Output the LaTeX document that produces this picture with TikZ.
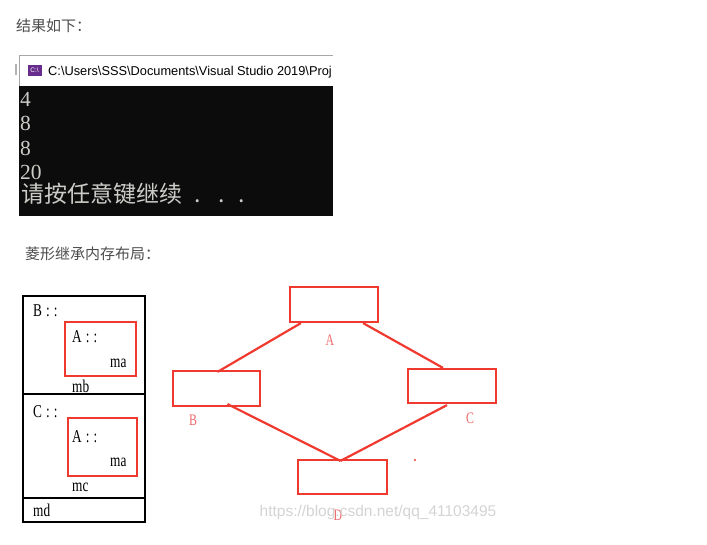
\documentclass[tikz,border=0pt]{standalone}
\usepackage{fontspec}
\setmainfont{Liberation Serif}
\newfontfamily\cjk{Noto Sans CJK SC}
\newfontfamily\uisans{Liberation Sans}
\newfontfamily\narrowserif[FakeStretch=0.74]{Liberation Serif}
\usetikzlibrary{calc}
\definecolor{redline}{RGB}{240,58,48}
\definecolor{redlabel}{RGB}{238,105,105}
\definecolor{consoletext}{RGB}{204,204,200}
\definecolor{headtext}{RGB}{77,77,77}
\definecolor{watermark}{RGB}{212,212,212}
\definecolor{vspurple}{RGB}{104,45,140}
\definecolor{consolebg}{RGB}{12,12,12}
\begin{document}
\begin{tikzpicture}[x=1pt,y=-1pt,
  txt/.style={inner sep=0pt, anchor=base west},
  head/.style={inner sep=0pt, anchor=west, text=headtext, font=\cjk\fontsize{15pt}{15pt}\selectfont},
  contxt/.style={txt, text=consoletext, font=\fontsize{21.5pt}{21.5pt}\selectfont},
  laytxt/.style={txt, font=\narrowserif\fontsize{18pt}{18pt}\selectfont},
  laybox/.style={draw=black, line width=2.6pt, minimum width=122pt, inner sep=0pt},
  redbox/.style={draw=redline, line width=2.4pt, inner sep=0pt},
  diabox/.style={draw=redline, line width=2.2pt, inner sep=0pt, minimum width=88pt, minimum height=35pt},
  dialabel/.style={inner sep=0pt, anchor=base, text=redlabel, font=\narrowserif\fontsize{16pt}{16pt}\selectfont},
  conn/.style={draw=redline, line width=2.2pt}]
\useasboundingbox (0,0) rectangle (707,545);
\fill[white] (0,0) rectangle (707,545);

% heading
\node[head] (h1) at (16,26) {结果如下：};

% console window
\fill[consolebg] (19,86) rectangle (333,216);
\fill[white] (19,55) rectangle (333,86);
\draw[gray!70, line width=0.8pt] (19,86) -- (19,55) -- (333,55);
\draw[gray!60, line width=2pt] (16,64) -- (16,75);
\node[fill=vspurple, minimum width=14pt, minimum height=11pt, inner sep=0pt, text=white,
      font=\uisans\fontsize{6.5pt}{6.5pt}\selectfont] (icon) at (34.5,70.5) {C:\textbackslash};
\begin{scope}
\clip (19,55) rectangle (333,86);
\node[txt, font=\uisans\fontsize{12.8pt}{12.8pt}\selectfont] (title) at (48,76)
  {C:\textbackslash Users\textbackslash SSS\textbackslash Documents\textbackslash Visual Studio 2019\textbackslash Proj};
\end{scope}
\node[contxt] (l1) at (20,107) {4};
\node[contxt] (l2) at (20,131) {8};
\node[contxt] (l3) at (20,156) {8};
\node[contxt] (l4) at (20,180) {20};
\node[contxt, font=\cjk\fontsize{23pt}{23pt}\selectfont] (l5) at (21,203)
  {请按任意键继续\hspace{12pt}.\hspace{18pt}.\hspace{14pt}.};

% second heading
\node[head] (h2) at (25,254) {菱形继承内存布局：};

% memory layout
\node[laybox, minimum height=98pt] (bpart) at (84,345) {};
\node[laybox, minimum height=104pt] (cpart) at (84,446) {};
\node[laybox, minimum height=24pt] (dpart) at (84,510) {};
\node[redbox, minimum width=71pt, minimum height=54pt] (abox1) at (100.5,349) {};
\node[redbox, minimum width=69pt, minimum height=58pt] (abox2) at (102.5,447) {};
\node[laytxt] (tb) at (33,317) {B\hspace{4pt}:\hspace{4pt}:};
\node[laytxt] (ta1) at (72,342) {A\hspace{4pt}:\hspace{4pt}:};
\node[laytxt] (tma1) at (110,367) {ma};
\node[laytxt] (tmb) at (72,392) {mb};
\node[laytxt] (tc) at (33,417) {C\hspace{4pt}:\hspace{4pt}:};
\node[laytxt] (ta2) at (72,442) {A\hspace{4pt}:\hspace{4pt}:};
\node[laytxt] (tma2) at (110,466) {ma};
\node[laytxt] (tmc) at (72,491) {mc};
\node[laytxt] (tmd) at (33,516) {md};

% diamond inheritance
\node[diabox] (A) at (334,304.5) {};
\node[diabox, minimum width=87pt] (B) at (216.5,388.5) {};
\node[diabox, minimum height=34pt] (C) at (452,386) {};
\node[diabox, minimum width=89pt, minimum height=34pt] (D) at (342.5,477) {};
\node[dialabel] (la) at (330,345) {A};
\node[dialabel] (lb) at (193,425) {B};
\node[dialabel] (lc) at (470,423) {C};
\node[dialabel] (ld) at (338,520) {D};
\coordinate (dtop) at ($(D.north)+(-2,2)$);
\draw[conn] ($(A.south west)+(12,0)$) -- ($(B.north)+(1,2)$);
\draw[conn] ($(A.south east)+(-16,0)$) -- ($(C.north)+(-9,0)$);
\draw[conn] ($(B.south)+(11,-3)$) -- (dtop);
\draw[conn] ($(C.south)+(-5,1)$) -- (dtop);
\fill[redline] (415,460) circle (1.1pt);

% watermark
\node[inner sep=0pt, text=watermark, font=\uisans\fontsize{15.5pt}{15.5pt}\selectfont] (wm) at (378,512)
  {https://blog.csdn.net/qq\_41103495};
\end{tikzpicture}
\end{document}
